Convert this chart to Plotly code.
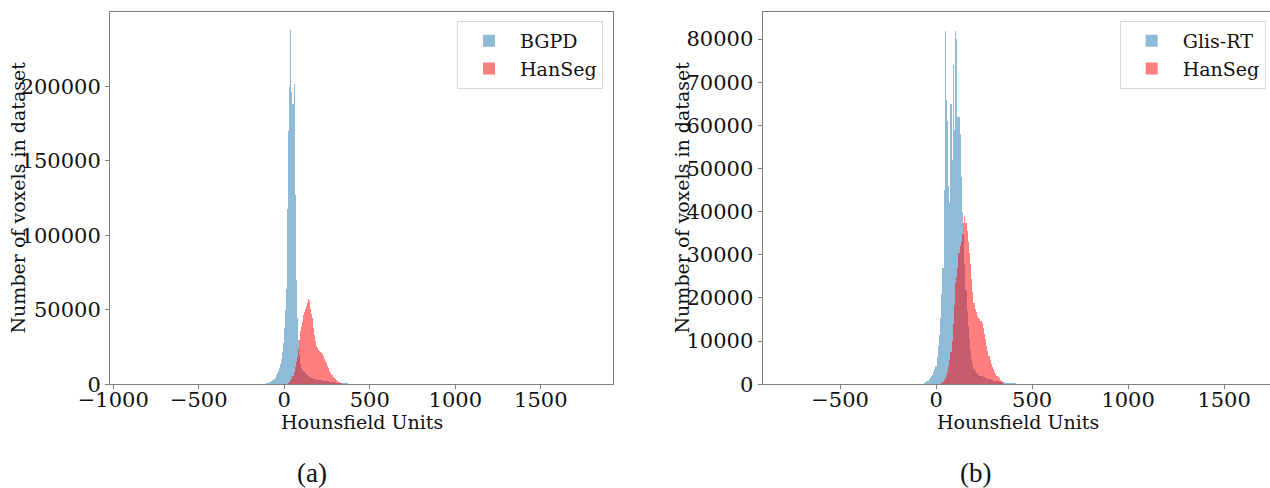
import numpy as np
import plotly.graph_objects as go

# ---------------- data (counts per 6-HU bin) ----------------
bin_width = 6

# (a) BGPD vs HanSeg
bgpd_start = -132
bgpd_counts = [
    150, 250, 400, 600, 850, 1100, 1400, 1700, 2000, 2400, 2900, 3400,
    4000, 4700, 6200, 7500, 9000, 11000, 13500, 17000, 22000, 28000,
    38000, 50000, 64000, 118000, 170000, 200000, 238000, 196000, 188000,
    202000, 127000, 70000, 45000, 30000, 20000, 14000, 11000, 9500, 8800,
    8200, 7600, 7000, 6400, 5900, 5400, 5000, 4600, 4300, 4000, 3800,
    3600, 3400, 3200, 3100, 3000, 2900, 2800, 2700, 2600, 2500, 2400,
    2300, 2200, 2100, 2000, 1900, 1800, 1700, 1600, 1500, 1400, 1300,
    1250, 1200, 1150, 1100, 1000, 950, 900, 850, 800, 750, 700, 660,
    620, 580, 550, 520, 490, 460, 430, 400, 380, 360, 340, 320, 300,
    280, 260, 240, 220, 200, 185, 170, 155, 140, 125, 110, 100, 90, 80,
    70, 60,
]

hanseg_a_start = 18
hanseg_a_counts = [
    500, 1000, 1800, 2800, 4000, 6000, 8500, 11500, 15000, 18500, 24000,
    30000, 36000, 38500, 42000, 47000, 48500, 50500, 53000, 55000, 57500,
    56000, 50500, 47500, 44500, 38000, 33000, 29500, 26000, 24500, 23500,
    22500, 21800, 21000, 20300, 19500, 17500, 15800, 14300, 12800, 11200,
    9200, 7600, 6300, 5200, 4300, 3600, 3000, 2500, 2000, 1600, 1300,
    1000, 700, 450, 250, 120,
]

# (b) Glis-RT vs HanSeg
glis_start = -72
glis_counts = [
    200, 350, 550, 750, 950, 1200, 1500, 1900, 2300, 2900, 3600, 4300,
    6500, 9000, 11500, 15500, 21000, 27000, 45000, 82000, 66000, 61000,
    46000, 42000, 65000, 52000, 74000, 59000, 82000, 80000, 62000, 62000,
    58000, 48000, 40000, 35000, 28000, 22000, 17000, 13500, 10500, 8000,
    6000, 4600, 3700, 3100, 2800, 2500, 2300, 2100, 2000, 1900, 1800,
    1700, 1600, 1500, 1400, 1300, 1200, 1100, 1000, 950, 900, 850, 800,
    750, 700, 650, 600, 560, 520, 480, 450, 420, 390, 360, 340, 320, 300,
    280, 260, 245, 230, 215, 200, 190, 180, 170, 160, 150, 140, 130, 120,
    110, 100, 90, 80, 70,
]

hanseg_b_start = 24
hanseg_b_counts = [
    300, 600, 1000, 1500, 2200, 3000, 4200, 5600, 7500, 10000, 14000,
    18500, 23500, 25000, 27000, 30500, 32000, 33000, 35000, 37500, 39000,
    37500, 35500, 33000, 30500, 28000, 24500, 21500, 19000, 17500, 16800,
    16000, 15500, 15100, 14800, 14200, 13000, 11800, 10500, 9000, 7800,
    6600, 5600, 4800, 4100, 3500, 3000, 2500, 2100, 1800, 1500, 1100, 800,
    500, 250, 100,
]

left_xticks = [-1000, -500, 0, 500, 1000, 1500]
right_xticks = [-500, 0, 500, 1000, 1500]
left_yticks = [0, 50000, 100000, 150000, 200000]
right_yticks = [0, 10000, 20000, 30000, 40000, 50000, 60000, 70000, 80000]

x_title = "Hounsfield Units"
y_title = "Number of voxels in dataset"


def centers(start, counts):
    return start + bin_width * (np.arange(len(counts)) + 0.5)


BLUE = "rgba(31,119,180,0.5)"
RED = "rgba(255,0,0,0.5)"
FONT = "DejaVu Serif"
AX = "#808080"
TXT = "#111"

fig = go.Figure()

fig.add_trace(go.Bar(x=centers(bgpd_start, bgpd_counts), y=bgpd_counts,
                     width=bin_width, name="BGPD", marker=dict(color=BLUE, line=dict(width=0)),
                     xaxis="x", yaxis="y", legend="legend"))
fig.add_trace(go.Bar(x=centers(hanseg_a_start, hanseg_a_counts), y=hanseg_a_counts,
                     width=bin_width, name="HanSeg", marker=dict(color=RED, line=dict(width=0)),
                     xaxis="x", yaxis="y", legend="legend"))
fig.add_trace(go.Bar(x=centers(glis_start, glis_counts), y=glis_counts,
                     width=bin_width, name="Glis-RT", marker=dict(color=BLUE, line=dict(width=0)),
                     xaxis="x2", yaxis="y2", legend="legend2"))
fig.add_trace(go.Bar(x=centers(hanseg_b_start, hanseg_b_counts), y=hanseg_b_counts,
                     width=bin_width, name="HanSeg", marker=dict(color=RED, line=dict(width=0)),
                     xaxis="x2", yaxis="y2", legend="legend2"))

ydom = [1 - 384.3 / 488, 1 - 11.7 / 488]
tickfont = dict(family=FONT, size=21, color=TXT)
titlefont = dict(family=FONT, size=19, color=TXT)

common_x = dict(showgrid=False, zeroline=False, showline=True, linecolor=AX, linewidth=1,
                ticks="outside", ticklen=4, tickcolor=AX, tickfont=tickfont, automargin=False,
                ticklabelstandoff=-8)
common_y = dict(showgrid=False, zeroline=False, showline=True, linecolor=AX, linewidth=1,
                ticks="outside", ticklen=4, tickcolor=AX, tickfont=tickfont, tickformat="d",
                automargin=False)

legend_common = dict(y=1 - 21 / 488, xanchor="right", yanchor="top",
                     bgcolor="white", bordercolor="#d9d9d9", borderwidth=1,
                     font=dict(family=FONT, size=19, color=TXT), itemwidth=52)


def label(text, x, y, angle=0):
    return dict(text=text, x=x / 1270, y=1 - y / 488, xref="paper", yref="paper",
                xanchor="center", yanchor="middle", showarrow=False, textangle=angle,
                font=titlefont)


fig.update_layout(
    width=1270, height=488,
    margin=dict(l=0, r=0, t=0, b=0, autoexpand=False),
    paper_bgcolor="white", plot_bgcolor="white",
    barmode="overlay", bargap=0,
    font=dict(family=FONT, color=TXT),
    xaxis=dict(domain=[110 / 1270, 613 / 1270], range=[-1019, 1922], anchor="y",
               tickvals=left_xticks, mirror=True, **common_x),
    yaxis=dict(domain=ydom, range=[0, 250000], anchor="x", tickvals=left_yticks, mirror=True,
               **common_y),
    xaxis2=dict(domain=[762.5 / 1270, 1.0], range=[-904, 1739], anchor="y2",
                tickvals=right_xticks, mirror=True, **common_x),
    yaxis2=dict(domain=ydom, range=[0, 86330], anchor="x2", tickvals=right_yticks, mirror=False,
                **common_y),
    legend=dict(x=603 / 1270, **legend_common),
    legend2=dict(x=1265.7 / 1270, **legend_common),
    annotations=[
        label(x_title, 361.5, 422),
        label(x_title, 1018, 422),
        label(y_title, 18, 197.5, -90),
        label(y_title, 682, 197.5, -90),
        dict(text="(a)", x=312 / 1270, y=1 - 473 / 488, xref="paper", yref="paper",
             xanchor="center", yanchor="middle", showarrow=False,
             font=dict(family="Liberation Serif", size=27, color=TXT)),
        dict(text="(b)", x=975.5 / 1270, y=1 - 473 / 488, xref="paper", yref="paper",
             xanchor="center", yanchor="middle", showarrow=False,
             font=dict(family="Liberation Serif", size=27, color=TXT)),
    ],
)

fig.write_html("out.html")
